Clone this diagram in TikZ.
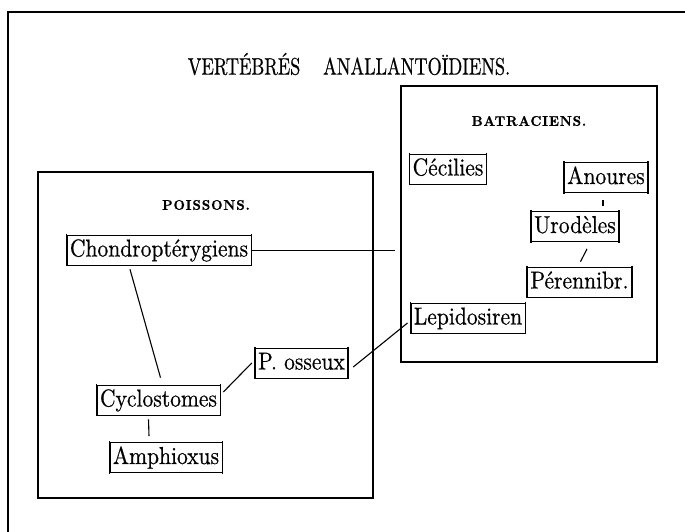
\documentclass[tikz,border=0pt]{standalone}
\usepackage{fontspec}
\setmainfont{lmroman10-regular.otf}[BoldFont=lmroman10-bold.otf]
\newfontfamily\condfont{lmroman10-regular.otf}[FakeStretch=0.88,FakeBold=0.5]
\newfontfamily\titlefont{lmroman10-regular.otf}[FakeStretch=0.76,FakeBold=0.6]
\newfontfamily\secfont{lmroman10-bold.otf}[LetterSpace=6,FakeStretch=0.95,FakeBold=0.8]
\usetikzlibrary{calc}
\begin{document}
\begin{tikzpicture}[x=1pt,y=-1pt,
  lbl/.style={draw, line width=0.7pt, inner xsep=3pt, inner ysep=3.5pt,
    text height=18pt, text depth=5pt,
    font=\condfont\fontsize{24.5}{26}\selectfont},
  lnk/.style={line width=1.1pt},
  thinlnk/.style={line width=0.8pt},
  grpbox/.style={line width=1.2pt},
  outer/.style={line width=2pt},
  sect/.style={font=\secfont\fontsize{14}{16}\selectfont},
  ttl/.style={font=\titlefont\fontsize{24}{26}\selectfont}]
\useasboundingbox (0,0) rectangle (685,532);
% outer frame (top and left)
\draw[outer] (685,12) -- (8,12) -- (8,532);
% title
\node[ttl] (title) at (349,64) {VERTÉBRÉS\hspace{0.7em} ANALLANTOÏDIENS.};
% group boxes
\draw[grpbox] (38,172) rectangle (373,498);
\draw[grpbox] (401,86) rectangle (657,362);
\node[sect] (poissons) at (206,205) {POISSONS.};
\node[sect] (batraciens) at (529,121) {BATRACIENS.};
% nodes
\node[lbl] (chon)  at (159,250)   {Chondroptérygiens};
\node[lbl] (cyclo) at (158.5,400) {Cyclostomes};
\node[lbl] (amph)  at (166,457.5) {Amphioxus};
\node[lbl] (poss)  at (301.5,363) {P. osseux};
\node[lbl] (lepi)  at (468,318)   {Lepidosiren};
\node[lbl] (ceci)  at (448,169)   {Cécilies};
\node[lbl] (anou)  at (606,177.5) {Anoures};
\node[lbl] (urod)  at (575,226.5) {Urodèles};
\node[lbl] (pere)  at (579.5,282) {Pérennibr.};
\foreach \n in {chon,cyclo,amph,poss,lepi,ceci,anou,urod,pere}{
  \draw[line width=1.5pt] ([yshift=1pt]\n.north west) -- ([yshift=-1pt]\n.south west)
                          ([yshift=1pt]\n.north east) -- ([yshift=-1pt]\n.south east);
}
% connectors
\coordinate (chonend) at (395,250);
\draw[thinlnk] (chon.east) -- (chonend);
\draw[lnk] ([xshift=-29pt,yshift=-4pt]chon.south) -- ([xshift=2pt,yshift=7pt]cyclo.north);
\draw[lnk] ([xshift=-10pt,yshift=-4pt]cyclo.south) -- ([xshift=-17pt,yshift=6pt]amph.north);
\draw[lnk] ([xshift=3pt,yshift=8pt]cyclo.east) -- ([xshift=-3pt]poss.west);
\draw[lnk] ([xshift=5pt,yshift=-4pt]poss.east) -- ([xshift=-3pt,yshift=-5pt]lepi.west);
\draw[lnk] ([xshift=-3pt,yshift=-7pt]anou.south) -- ([xshift=28pt,yshift=5pt]urod.north);
\draw[lnk] ([xshift=12pt,yshift=-7pt]urod.south) -- ([xshift=1pt,yshift=5pt]pere.north);
\end{tikzpicture}
\end{document}
